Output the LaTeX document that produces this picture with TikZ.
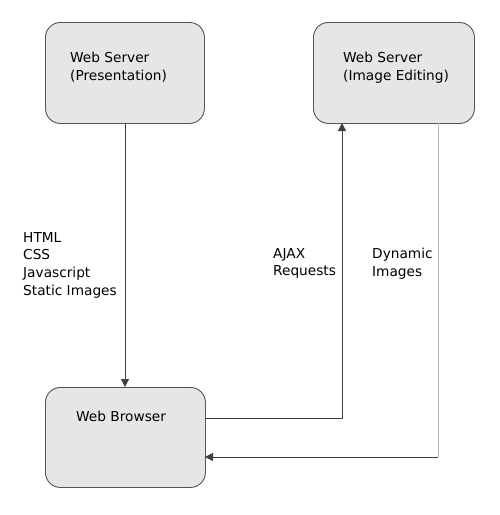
\documentclass[tikz,border=0pt]{standalone}
\usepackage{fontspec}
\setmainfont{DejaVu Sans}
\usetikzlibrary{arrows.meta}
\definecolor{boxfill}{HTML}{E6E6E6}
\definecolor{edge}{HTML}{555555}
\definecolor{lightedge}{HTML}{BBBBBB}
\begin{document}
\begin{tikzpicture}[x=1pt,y=-1pt,
  srv/.style={draw=edge,fill=boxfill,rounded corners=15pt,line width=0.9pt},
  lbl/.style={font=\fontsize{13.7}{17.8}\selectfont,align=left,inner sep=0pt,anchor=north west},
  conn/.style={draw=black!75,line width=0.8pt},
  tip/.style={-{Triangle[length=8pt,width=8pt]}}
]
\useasboundingbox[fill=white] (0,0) rectangle (500,515);
\node[srv,minimum width=159pt,minimum height=101pt,anchor=north west] (pres) at (45,22) {};
\node[srv,minimum width=161pt,minimum height=101pt,anchor=north west] (edit) at (313,22) {};
\node[srv,minimum width=160pt,minimum height=100pt,anchor=north west] (brow) at (45,387) {};
\node[lbl] (tpres) at (70,52) {Web Server\\(Presentation)};
\node[lbl] (tedit) at (343,52) {Web Server\\(Image Editing)};
\node[lbl] (tbrow) at (76,411) {Web Browser};
\node[lbl] (lpres) at (23,232) {HTML\\CSS\\Javascript\\Static Images};
\node[lbl] (lajax) at (273,248) {AJAX\\Requests};
\node[lbl] (ldyn) at (372,248) {Dynamic\\Images};
\coordinate (a1) at (125,123);
\coordinate (a2) at (125,387);
\coordinate (b1) at (205,418);
\coordinate (b2) at (342,418);
\coordinate (b3) at (342,123);
\coordinate (c1) at (438,123);
\coordinate (c2) at (438,457);
\coordinate (c3) at (205,457);
\draw[conn,tip] (a1) -- (a2);
\draw[conn,tip] (b1) -- (b2) -- (b3);
\draw[draw=lightedge,line width=0.9pt] (c1) -- (c2);
\draw[conn,tip] (c2) -- (c3);
\end{tikzpicture}
\end{document}
